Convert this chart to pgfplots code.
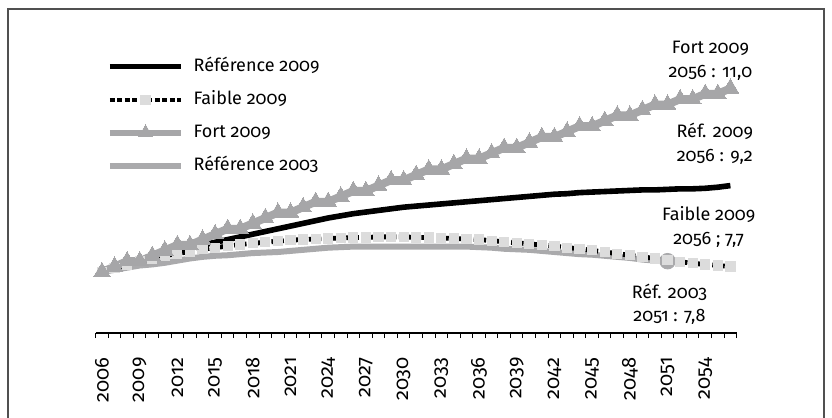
\documentclass[border=0pt]{standalone}
\usepackage{fontspec}
\setmainfont{Fira Sans}[Numbers=OldStyle]
\usepackage{pgfplots}
\pgfplotsset{compat=1.18}
\definecolor{gfort}{RGB}{166,166,168}
\definecolor{gref}{RGB}{170,170,172}
\definecolor{lgray}{RGB}{220,220,220}
\definecolor{framec}{RGB}{80,80,80}
\begin{document}
\begin{tikzpicture}
\begin{axis}[
  at={(0,0)}, anchor=south west,
  scale only axis, width=320.5pt, height=156.6pt,
  xmin=2005.5, xmax=2056.5, ymin=6.47, ymax=12.27,
  axis x line*=bottom, axis y line=none,
  axis line style={-, line width=1pt, black},
  xtick={2006,2009,2012,2015,2018,2021,2024,2027,2030,2033,2036,2039,2042,2045,2048,2051,2054},
  xticklabels={2006,2009,2012,2015,2018,2021,2024,2027,2030,2033,2036,2039,2042,2045,2048,2051,2054},
  minor xtick={2005.5,2006.5,...,2056.5},
  major tick length=0pt, minor tick length=2.5pt,
  tick align=outside, tick style={black, line width=0.5pt},
  /pgf/number format/assume math mode=true,
  xticklabel style={rotate=90, anchor=east, inner sep=0pt, font=\fontsize{10}{12}\selectfont},
  xticklabel shift=12pt,
  clip=false,
  legend cell align=left,
  legend style={at={(0.0176,0.8786)}, anchor=north west, draw=none, fill=none,
    inner sep=0pt, outer sep=0pt, row sep=7.5pt,
    font=\fontsize{9}{11}\selectfont,
    nodes={inner sep=0pt, text height=7pt, text depth=2pt},
    /tikz/every odd column/.style={column sep=4.75pt}},
  legend image code/.code={\draw[mark repeat=2,mark phase=2,#1] plot coordinates {(0pt,0pt) (17.9pt,0pt) (35.8pt,0pt)};},
]
% Reference 2003
\addplot[gref, line width=3pt, line join=round, forget plot] coordinates {
(2006,7.60) (2007,7.64) (2008,7.68) (2009,7.72) (2010,7.74) (2011,7.77) (2012,7.81) (2013,7.85) (2014,7.88) (2015,7.90)
(2016,7.91) (2017,7.93) (2018,7.95) (2019,7.96) (2020,7.97) (2021,7.99) (2022,8.01) (2023,8.03) (2024,8.05) (2025,8.06)
(2026,8.07) (2027,8.07) (2028,8.07) (2029,8.07) (2030,8.07) (2031,8.07) (2032,8.07) (2033,8.07) (2034,8.07) (2035,8.07)
(2036,8.06) (2037,8.05) (2038,8.03) (2039,8.02) (2040,8.01) (2041,7.99) (2042,7.97) (2043,7.95) (2044,7.93) (2045,7.92)
(2046,7.90) (2047,7.88) (2048,7.86) (2049,7.83) (2050,7.81) (2051,7.80)};
\addplot[gref, only marks, mark=*, mark size=3.9pt, mark options={fill=gref, draw=gref}, forget plot] coordinates {(2051,7.80)};
% Faible 2009
\addplot[black, line width=2.4pt, dash pattern=on 2.5pt off 1.25pt, mark=square*, mark size=2.3pt,
  mark options={solid, fill=lgray, draw=lgray, line width=0pt}, forget plot] coordinates {
(2006,7.60) (2007,7.67) (2008,7.74) (2009,7.80) (2010,7.85) (2011,7.90) (2012,7.94) (2013,7.98) (2014,8.02) (2015,8.05)
(2016,8.08) (2017,8.11) (2018,8.13) (2019,8.15) (2020,8.17) (2021,8.19) (2022,8.20) (2023,8.21) (2024,8.22) (2025,8.23)
(2026,8.24) (2027,8.24) (2028,8.25) (2029,8.25) (2030,8.25) (2031,8.24) (2032,8.24) (2033,8.23) (2034,8.22) (2035,8.21)
(2036,8.20) (2037,8.18) (2038,8.16) (2039,8.14) (2040,8.12) (2041,8.10) (2042,8.08) (2043,8.05) (2044,8.03) (2045,8.00)
(2046,7.97) (2047,7.94) (2048,7.91) (2049,7.88) (2050,7.85) (2051,7.82) (2052,7.79) (2053,7.76) (2054,7.74) (2055,7.72) (2056,7.70)};
% Reference 2009
\addplot[black, line width=2.8pt, line join=round, forget plot] coordinates {
(2006,7.60) (2007,7.68) (2008,7.75) (2009,7.82) (2010,7.88) (2011,7.94) (2012,8.00) (2013,8.05) (2014,8.10) (2015,8.15)
(2016,8.20) (2017,8.25) (2018,8.30) (2019,8.35) (2020,8.40) (2021,8.45) (2022,8.50) (2023,8.55) (2024,8.60) (2025,8.64)
(2026,8.68) (2027,8.71) (2028,8.74) (2029,8.77) (2030,8.80) (2031,8.82) (2032,8.84) (2033,8.86) (2034,8.88) (2035,8.90)
(2036,8.92) (2037,8.94) (2038,8.96) (2039,8.98) (2040,9.00) (2041,9.02) (2042,9.04) (2043,9.05) (2044,9.07) (2045,9.08)
(2046,9.09) (2047,9.10) (2048,9.11) (2049,9.12) (2050,9.12) (2051,9.13) (2052,9.14) (2053,9.14) (2054,9.15) (2055,9.17) (2056,9.20)};
% Fort 2009
\addplot[gfort, line width=4pt, line join=round, mark=triangle*, mark size=4.8pt,
  mark options={fill=gfort, draw=gfort, line width=0pt}, forget plot] coordinates {
(2006,7.6) (2007,7.7) (2008,7.8) (2009,7.8) (2010,7.9) (2011,8.0) (2012,8.1) (2013,8.1) (2014,8.2) (2015,8.3)
(2016,8.4) (2017,8.4) (2018,8.5) (2019,8.6) (2020,8.7) (2021,8.7) (2022,8.8) (2023,8.9) (2024,8.9) (2025,9.0)
(2026,9.1) (2027,9.1) (2028,9.2) (2029,9.3) (2030,9.3) (2031,9.4) (2032,9.5) (2033,9.5) (2034,9.6) (2035,9.7)
(2036,9.7) (2037,9.8) (2038,9.9) (2039,9.9) (2040,10.0) (2041,10.1) (2042,10.1) (2043,10.2) (2044,10.3) (2045,10.3)
(2046,10.4) (2047,10.5) (2048,10.5) (2049,10.6) (2050,10.7) (2051,10.7) (2052,10.8) (2053,10.8) (2054,10.9) (2055,10.9) (2056,11.0)};
% legend
\addlegendimage{black, line width=2.6pt}
\addlegendentry{Référence 2009}
\addlegendimage{black, line width=2.3pt, dash pattern=on 2.5pt off 1.25pt, mark=square*, mark size=2.3pt, mark options={solid, fill=lgray, draw=lgray, line width=0pt}}
\addlegendentry{Faible 2009}
\addlegendimage{gfort, line width=2.8pt, mark=triangle*, mark size=4pt, mark options={fill=gfort, draw=gfort, line width=0pt}}
\addlegendentry{Fort 2009}
\addlegendimage{gref, line width=2.8pt}
\addlegendentry{Référence 2003}
% annotations
\node[align=center, font=\fontsize{9}{11.9}\selectfont, inner sep=0pt] at (axis cs:2054.41,11.51) {Fort 2009\\2056 : 11,0};
\node[align=center, font=\fontsize{9}{11.9}\selectfont, inner sep=0pt] at (axis cs:2054.76,9.98) {Réf. 2009\\2056 : 9,2};
\node[align=center, font=\fontsize{9}{11.9}\selectfont, inner sep=0pt] at (axis cs:2054.27,8.43) {Faible 2009\\2056 ; 7,7};
\node[align=center, font=\fontsize{9}{11.9}\selectfont, inner sep=0pt] at (axis cs:2051.15,7.00) {Réf. 2003\\2051 : 7,8};
\end{axis}
\draw[framec, line width=0.6pt] (-43.85pt,-42.5pt) -- (-43.85pt,162pt) -- (364.15pt,162pt) -- (364.15pt,-42.5pt);
\pgfresetboundingbox
\path[use as bounding box] (-47.85pt,-42.5pt) rectangle (368.15pt,166.5pt);
\end{tikzpicture}
\end{document}
